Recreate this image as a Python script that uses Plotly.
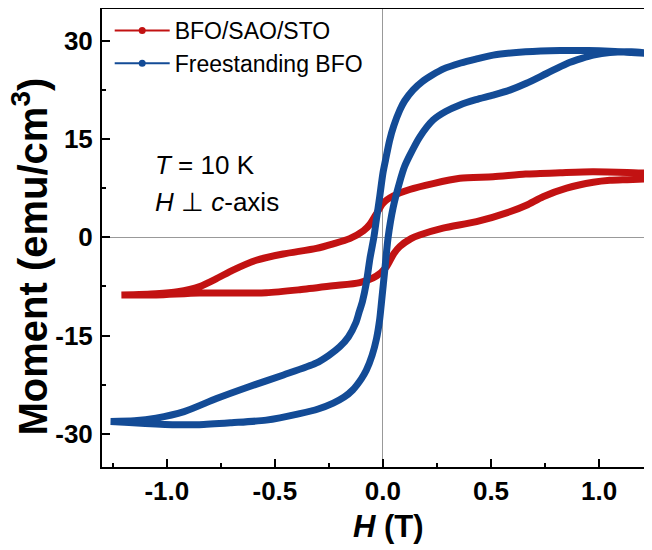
import plotly.graph_objects as go

# ---------------- data ----------------
# Freestanding BFO: descending branch (H decreasing)
blue_desc_H = [1.26, 1.15, 1.05, 0.95, 0.82, 0.66, 0.51, 0.43, 0.36, 0.28, 0.23, 0.18,
               0.14, 0.10, 0.078, 0.05, 0.031, 0.012, 0.0, -0.015, -0.03, -0.042,
               -0.06, -0.077, -0.095, -0.11, -0.125, -0.16, -0.20, -0.25, -0.31,
               -0.46, -0.62, -0.77, -0.92, -1.05, -1.15, -1.26]
blue_desc_M = [28.0, 28.2, 28.4, 28.5, 28.5, 28.3, 27.8, 27.2, 26.6, 25.7, 24.8, 23.7,
               22.5, 20.8, 19.4, 17.0, 14.8, 11.8, 9.8, 6.2, 2.8, 0.0,
               -3.2, -7.0, -9.8, -11.4, -13.0, -15.2, -16.7, -18.0, -19.2,
               -21.0, -22.8, -24.6, -26.6, -27.6, -28.0, -28.1]
# Freestanding BFO: ascending branch (H increasing)
blue_asc_H = [-1.26, -1.10, -0.95, -0.85, -0.70, -0.54, -0.385, -0.30, -0.23, -0.18,
              -0.14, -0.10, -0.077, -0.05, -0.03, -0.015, -0.007, 0.01, 0.024, 0.047,
              0.078, 0.10, 0.124, 0.17, 0.232, 0.29, 0.356, 0.43, 0.51, 0.59, 0.664,
              0.757, 0.85, 0.92, 0.973, 1.05, 1.15, 1.26]
blue_asc_M = [-28.1, -28.4, -28.6, -28.6, -28.3, -27.9, -26.9, -26.2, -25.3, -24.4,
              -23.3, -21.6, -20.3, -18.0, -15.5, -12.5, -10.0, -4.5, 0.0, 4.5,
              8.5, 10.8, 12.5, 15.3, 17.9, 19.2, 20.2, 21.0, 21.7, 22.5, 23.5,
              25.0, 26.5, 27.3, 27.8, 28.2, 28.3, 28.0]

# BFO/SAO/STO: descending branch (H decreasing)
red_desc_H = [1.21, 1.13, 0.97, 0.82, 0.66, 0.51, 0.356, 0.232, 0.124, 0.047, 0.0,
              -0.03, -0.06, -0.09, -0.154, -0.23, -0.308, -0.462, -0.586, -0.694,
              -0.77, -0.848, -0.95, -1.05, -1.21]
red_desc_M = [9.8, 9.9, 10.0, 9.85, 9.65, 9.25, 9.0, 8.2, 7.3, 6.3, 5.2,
              3.6, 2.0, 1.0, -0.2, -1.0, -1.7, -2.55, -3.5, -5.0,
              -6.3, -7.5, -8.3, -8.6, -8.8]
# BFO/SAO/STO: ascending branch (H increasing)
red_asc_H = [-1.21, -1.05, -0.85, -0.54, -0.385, -0.231, -0.107, -0.03, 0.016, 0.05,
             0.078, 0.13, 0.17, 0.278, 0.433, 0.587, 0.664, 0.741, 0.85, 0.973,
             1.05, 1.13, 1.21]
red_asc_M = [-8.8, -8.8, -8.5, -8.45, -8.0, -7.4, -6.9, -5.9, -4.5, -2.5,
             -1.4, -0.2, 0.35, 1.4, 2.4, 3.9, 4.9, 6.2, 7.5, 8.4,
             8.7, 8.8, 8.9]

series_names = ["BFO/SAO/STO", "Freestanding BFO"]
x_ticks = [-1.0, -0.5, 0.0, 0.5, 1.0]
x_tick_labels = ["-1.0", "-0.5", "0.0", "0.5", "1.0"]
y_ticks = [-30, -15, 0, 15, 30]
y_tick_labels = ["-30", "-15", "0", "15", "30"]

RED = "#C21212"
BLUE = "#134B96"
FONT = "Liberation Sans, Arial, Helvetica, sans-serif"

fig = go.Figure()

# loops
fig.add_trace(go.Scatter(x=red_desc_H + red_asc_H, y=red_desc_M + red_asc_M,
                         mode="lines", line=dict(color=RED, width=7, shape="spline",
                                                 smoothing=0.7),
                         showlegend=False, hoverinfo="skip"))
fig.add_trace(go.Scatter(x=blue_desc_H + blue_asc_H, y=blue_desc_M + blue_asc_M,
                         mode="lines", line=dict(color=BLUE, width=7, shape="spline",
                                                 smoothing=0.7),
                         showlegend=False, hoverinfo="skip"))

# legend entries
for name, col in zip(series_names, [RED, BLUE]):
    fig.add_trace(go.Scatter(x=[None], y=[None], mode="lines+markers", name=name,
                             line=dict(color=col, width=2),
                             marker=dict(color=col, size=7)))

fig.update_layout(
    width=644, height=542,
    margin=dict(l=94, r=0, t=1, b=83, autoexpand=False),
    paper_bgcolor="white", plot_bgcolor="white",
    font=dict(family=FONT, color="black"),
    showlegend=True,
    legend=dict(x=0.014, y=1.0, xanchor="left", yanchor="top",
                bgcolor="rgba(0,0,0,0)", borderwidth=0,
                font=dict(family=FONT, size=23, color="black"),
                itemwidth=55, tracegroupgap=0),
    xaxis=dict(range=[-1.3, 1.245], showgrid=False,
               zeroline=True, zerolinecolor="#999999", zerolinewidth=1.2,
               showline=True, linecolor="black", linewidth=2, mirror=True,
               ticks="inside", ticklen=8, tickwidth=2, tickcolor="black",
               tickvals=x_ticks, ticktext=x_tick_labels,
               tickfont=dict(family=FONT, size=26, color="black", weight="bold"),
               ticklabelstandoff=0,
               minor=dict(ticks="inside", ticklen=4, tickwidth=2, dtick=0.25,
                          tick0=0, tickcolor="black", showgrid=False)),
    yaxis=dict(range=[-35.05, 34.84], showgrid=False,
               zeroline=True, zerolinecolor="#999999", zerolinewidth=1.2,
               showline=True, linecolor="black", linewidth=2, mirror=False,
               ticks="inside", ticklen=8, tickwidth=2, tickcolor="black",
               tickvals=y_ticks, ticktext=y_tick_labels,
               tickfont=dict(family=FONT, size=26, color="black", weight="bold"),
               ticklabelstandoff=2,
               minor=dict(ticks="inside", ticklen=4, tickwidth=2, dtick=7.5,
                          tick0=0, tickcolor="black", showgrid=False)),
    annotations=[
        dict(text="<i>H</i> (T)", xref="paper", yref="paper", x=0.52, y=-0.131,
             xanchor="center", yanchor="middle", showarrow=False,
             font=dict(family=FONT, size=31, color="black", weight="bold")),
        dict(text="Moment (emu/cm<sup>3</sup>)", xref="paper", yref="paper",
             x=-0.130, y=0.4585, xanchor="center", yanchor="middle",
             textangle=-90, showarrow=False,
             font=dict(family=FONT, size=40, color="black", weight="bold")),
        dict(text="<i>T</i> = 10 K", xref="paper", yref="paper", x=0.0927, y=0.6594,
             xanchor="left", yanchor="middle", showarrow=False,
             font=dict(family=FONT, size=26, color="black")),
        dict(text="<i>H</i> \u22a5 <i>c</i>-axis", xref="paper", yref="paper",
             x=0.0927, y=0.5786, xanchor="left", yanchor="middle", showarrow=False,
             font=dict(family=FONT, size=26, color="black")),
    ],
)

fig.write_html("out.html")
